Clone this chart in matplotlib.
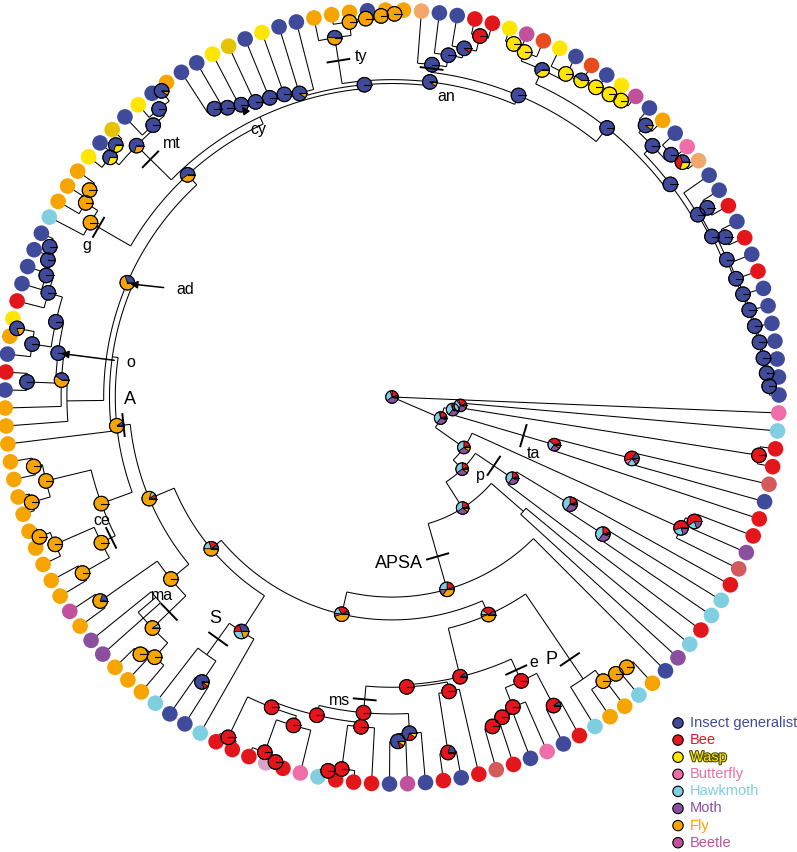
import re
import numpy as np
import matplotlib
matplotlib.use('Agg')
import matplotlib.pyplot as plt
from matplotlib.patches import Wedge, Circle
from matplotlib.collections import LineCollection
import matplotlib.patheffects as pe

plt.rcParams['font.family'] = ['Liberation Sans', 'DejaVu Sans']

# pollinator states, in legend order
states = ['G', 'B', 'W', 'U', 'H', 'M', 'F', 'C']
state_names = ['Insect generalist', 'Bee', 'Wasp', 'Butterfly', 'Hawkmoth', 'Moth', 'Fly', 'Beetle']
state_colors = ['#3f4a9b', '#e3161c', '#ffe500', '#ef6ea9', '#7fcfe1', '#8a4f9e', '#f6a400', '#c1519b']
# extra tip shades seen in the figure
extra_colors = {'o': '#f2a76b', 'r': '#e84c1e', 'd': '#d35b5b', 'y': '#e6c200', 'p': '#dba2c9'}

# tip states, going counter-clockwise from 3 o'clock (tips 1..135)
tip_groups = ['GGGGGGG', 'BGBGBGG', 'oUGFG', 'CWGrGWrCW', 'BBGGo', 'FFGFFF',
              'GGWGyWGG', 'FGWGyGW', 'FFFH', 'GGGGBWFGBG', 'FFFFFFFFFFFF',
              'CFMMFFF', 'HGGH', 'BBBpBUHBBB', 'GCGBGBdBGUGB', 'HFFHFG',
              'MHBHHBdMBB', 'GdBBHU']
tip_states = ''.join(tip_groups)

# tree: tips are numbers, internal label = radius (tip circle = 1) + pie weights + #name
K1a = ("((((((((((((1,2)0.975G,3)0.97G,4)0.965G,5)0.96G,6)0.955G,7)0.95G,8)0.945G,9)0.94G,"
       "(10,11)0.955G)0.935G,(12,13)0.95G)0.925G,14)0.92G,"
       "(((15,16)0.965B4W3G3,17)0.955G,(18,19)0.96G9F1)0.935G)0.905G")
W1 = "((((((20,21)0.968W,22)0.963W,23)0.958W,24)0.953W6G4,25)0.948W,(26,(27,28)0.965W)0.955W)0.93G6W4"
K2 = "((((29,30)0.96B,31)0.92G9B1,32)0.895G,33)0.865G#an"
K3 = "(((((34,35)0.99F,36)0.985F,37)0.98F,38)0.975F,39)0.94G5F5#ty"
K4 = "(40,(41,(42,(43,(44,(45,(46,47)0.875G)0.86G)0.85G#cy)0.84G)0.835G)0.83G)0.82G9F1"
K5 = "((((48,49)0.99G9F1,50)0.957G,51)0.935G,((52,53)0.966G7W3,54)0.956G7W3)0.926G7F3#mt"
K6 = "(((55,56)0.947F,57)0.937F,58)0.9F#g"
K7 = ("((((((59,60)0.966G,61)0.957G,62)0.947G,63)0.928G,((64,65)0.985G8F2,66)0.94G)0.89G,"
      "(67,68)0.944G)0.87G#o")
K9 = "(((72,73)0.943F,(74,75)0.97F)0.92F,(((76,77)0.98F,78)0.95F,(79,80)0.92F)0.84F#ce)0.8F"
MA = "((81,82)0.92F8G2,((83,84)0.8,((85,86)0.93F,87)0.91F)0.86F9H1#ma)0.74F"
SC = "((88,(89,90)0.885G8B1F1)0.82#S,91)0.72G3B2H3F2"
BB = "((92,93)0.976B,((94,(95,96)0.99B)0.975B,97)0.886B)0.86B"
BX = "(((98,99)0.98B,100)0.97B,101)0.856B"
BL = "((102,103)0.89G8W1B1,104)0.87G7B2W1"
BZ = "((105,106)0.93B8G2,107)0.775B"
BE = "((((108,109)0.89B,110)0.875B,111)0.86B,(112,113)0.9B9G1)0.806B#e"
PC = "(114,(115,(116,(117,118)0.925F)0.92F)0.915F)0.88#P"
QC = "(122,((123,124)0.65H40B20M30F5G5,125)0.537H40B20M30F5G5)0.375H40B20M30F5G5#p"
PT = "(126,(127,128)0.845B60H20M20)0.82B55H25M20"
TA = "(129,(130,131)0.64B40G15U10H20M10F5)0.437B35H25M25F10G5#ta"
N3 = "((132,133)0.96B,134)0.178H35B25M25G5F5U5"

top = f"(((((({K1a},{W1})0.89G,{K2})0.845G,{K3})0.82G9F1,{K4})0.81G,{K5})0.8,{K6})0.78G6F4"
left = f"((({top},(({K7},69)0.855F6G4,70)0.84)0.745F7G3#ad,71)0.73,{K9})0.715F9G1#A"
bee = f"(((({BB},{BX})0.845B,{BL})0.819B#ms,{BZ})0.75B,{BE})0.744B9G1"
core = f"((({left},{MA})0.68F8H1B1,{SC})0.61F5B2H2G1,({bee},{PC})0.615F45B30G10H10M5)0.576F45B25H15G8M7"
apsa = f"({core},119)0.517F35H25B20M15G5#APSA"
TREE = (f"((((({apsa},(120,121)0.45)0.34H35M30B20F10G5,{QC})0.26H35M30B20F10G5,{PT})0.227H35M30B20F10G5,"
        f"({TA},{N3})0.16H35B20M30G5F5U5)0.137H35B20M30G5F5U5,135)0H30B20M35G5F5U5")

# clade labels: name, kind, text offset from mark (px), place along stem
clade_labels = [('ty', 'tick', (23, 4), 0.5), ('an', 'tick', (15, -28), 0.5),
                ('cy', 'arrow', (16, -23), 0.5), ('mt', 'tick', (21, 16), 0.6),
                ('g', 'tick', (-12, -18), 0.8), ('ad', 'arrow', (55, -6), 0.5),
                ('o', 'arrow', (70, -9), 0.5), ('A', 'tick', (6, 26), 0.5),
                ('ce', 'tick', (-9, 17), 0.3), ('ma', 'tick', (-7, 16), 0.5),
                ('S', 'tick', (-3, 20), 0.5), ('APSA', 'tick', (-39, -7), 0.5),
                ('p', 'tick', (-13, -10), 0.5), ('ta', 'tick', (10, -18), 0.7),
                ('P', 'tick', (-18, 0), 0.77), ('e', 'tick', (18, 7), 0.5),
                ('ms', 'tick', (-25, -1), 0.5)]


def parse(s):
    pos = 0

    def node():
        nonlocal pos
        if s[pos] == '(':
            pos += 1
            kids = [node()]
            while s[pos] == ',':
                pos += 1
                kids.append(node())
            pos += 1
            m = re.match(r'([0-9.]*)([A-Z0-9]*)(?:#(\w+))?', s[pos:])
            pos += m.end()
            return {'kids': kids, 'r': float(m.group(1)), 'pie': m.group(2), 'name': m.group(3)}
        m = re.match(r'\d+', s[pos:])
        pos += m.end()
        return {'tip': int(m.group())}
    return node()


tree = parse(TREE.replace(' ', ''))
n_tips = len(tip_states)
TIP0, STEP = 0.3, 360.0 / n_tips
CX, CY, RAD = 392, 455, 387


def place(n, pr=0.0):
    n['pr'] = pr
    if 'tip' in n:
        n['r'] = 1.0
        n['th'] = np.radians(TIP0 + (n['tip'] - 1) * STEP)
    else:
        for k in n['kids']:
            place(k, n['r'])
        n['th'] = np.mean([k['th'] for k in n['kids']])


def xy(r, th):
    return CX + RAD * r * np.cos(th), CY + RAD * r * np.sin(th)


place(tree)
nodes = []


def walk(n):
    nodes.append(n)
    for k in n.get('kids', []):
        walk(k)


walk(tree)

fig = plt.figure(figsize=(7.97, 8.52), dpi=100)
ax = fig.add_axes([0, 0, 1, 1])
ax.set_xlim(0, 797)
ax.set_ylim(0, 852)
ax.axis('off')

segs = []
for n in nodes:
    if 'kids' not in n:
        continue
    ths = [k['th'] for k in n['kids']]
    t = np.linspace(min(ths), max(ths), 120)
    segs.append(np.column_stack(xy(n['r'], t)))
    for k in n['kids']:
        segs.append([xy(n['r'], k['th']), xy(k['r'], k['th'])])
ax.add_collection(LineCollection(segs, colors='k', linewidths=0.75, zorder=1))

col = dict(zip(states, state_colors))
col.update(extra_colors)
for n in nodes:
    if 'tip' in n:
        ax.add_patch(Circle(xy(1.0, n['th']), 7.8, fc=col[tip_states[n['tip'] - 1]], ec='none', zorder=2))

for n in nodes:
    if 'kids' not in n or not n['pie']:
        continue
    x, y = xy(n['r'], n['th'])
    pr = 6.3 if n['r'] < 0.5 else 7.3
    w = {s: float(v or 1) for s, v in re.findall(r'([A-Z])(\d*)', n['pie'])}
    tot = sum(w.values())
    a = 0.0
    for s in states:
        if s in w:
            d = 360.0 * w[s] / tot
            ax.add_patch(Wedge((x, y), pr, a, a + d, fc=col[s], ec='k', lw=0.5, zorder=3))
            a += d
    ax.add_patch(Circle((x, y), pr, fill=False, ec='k', lw=0.8, zorder=3.1))
    ax.plot([x, x + pr], [y, y], color='k', lw=0.8, zorder=3.2)

named = {n['name']: n for n in nodes if n.get('name')}
for name, kind, (ox, oy), frac in clade_labels:
    n = named[name]
    rm = n['pr'] + frac * (n['r'] - n['pr'])
    x, y = xy(rm, n['th'])
    fs = 13 if name[0].isupper() else 11.5
    if kind == 'tick':
        dx, dy = -np.sin(n['th']) * 11, np.cos(n['th']) * 11
        ax.plot([x - dx, x + dx], [y - dy, y + dy], color='k', lw=1.4, zorder=4)
        ax.text(x + ox, y + oy, name, fontsize=fs, ha='center', va='center', zorder=5)
    else:
        ax.annotate(name, xy=(x, y), xytext=(x + ox, y + oy), fontsize=fs, ha='center', va='center',
                    arrowprops=dict(arrowstyle='-|>', color='k', lw=1.1, mutation_scale=11,
                                    shrinkA=7, shrinkB=0), zorder=5)

# legend
for i, (nm, c) in enumerate(zip(state_names, state_colors)):
    ly = 852 - (723 + i * 17.1)
    ax.add_patch(Circle((678, ly), 5.2, fc=c, ec='k', lw=0.8, zorder=3))
    t = ax.text(690, ly, nm, color=c, fontsize=10.5, va='center', ha='left')
    if nm == 'Wasp':
        t.set_path_effects([pe.Stroke(linewidth=1.6, foreground='#4d4d00'), pe.Normal()])

fig.savefig('out.png', dpi=100)
